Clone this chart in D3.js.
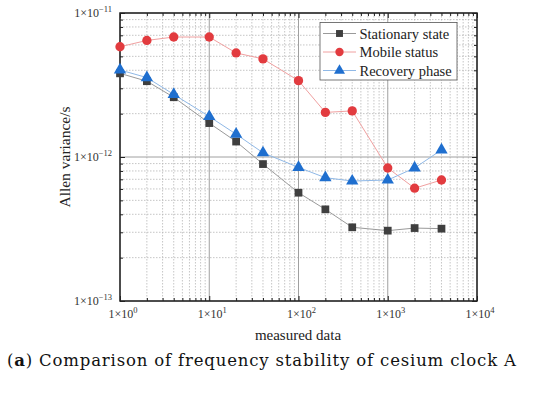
<!DOCTYPE html>
<html><head><meta charset="utf-8">
<script src="https://cdn.jsdelivr.net/npm/d3@7"></script>
<style>body{margin:0;background:#fff}svg{display:block}</style>
</head><body>
<svg id="c" width="550" height="397"></svg>
<script>
const xValues = [1, 2, 4, 10, 20, 40, 100, 200, 400, 1000, 2000, 4000];
const stationary = [3.81e-12, 3.36e-12, 2.60e-12, 1.72e-12, 1.28e-12, 8.93e-13, 5.65e-13, 4.33e-13, 3.25e-13, 3.08e-13, 3.21e-13, 3.18e-13];
const mobile = [5.83e-12, 6.45e-12, 6.81e-12, 6.81e-12, 5.28e-12, 4.80e-12, 3.39e-12, 2.04e-12, 2.09e-12, 8.39e-13, 6.07e-13, 6.92e-13];
const recovery = [4.02e-12, 3.56e-12, 2.72e-12, 1.91e-12, 1.44e-12, 1.07e-12, 8.47e-13, 7.18e-13, 6.81e-13, 6.92e-13, 8.39e-13, 1.12e-12];
const seriesNames = ["Stationary state", "Mobile status", "Recovery phase"];
const xTickExp = [0, 1, 2, 3, 4];
const yTickExp = [-13, -12, -11];
const xTitle = "measured data";
const yTitle = "Allen variance/s";
const captionBold = "a";
const captionText = " Comparison of frequency stability of cesium clock A";

const svg = d3.select("#c");
const L = 120, R = 477, T = 13, B = 301;
const x = d3.scaleLog().domain([1, 1e4]).range([L, R]);
const y = d3.scaleLog().domain([1e-13, 1e-11]).range([B, T]);
const serif = "'Liberation Serif', 'Times New Roman', serif";

const xMinor = [], yMinor = [];
for (let e = 0; e < 4; e++) for (let m = 2; m <= 9; m++) xMinor.push(m * Math.pow(10, e));
for (let e = -13; e < -11; e++) for (let m = 2; m <= 9; m++) yMinor.push(m * Math.pow(10, e));
const xMajor = xTickExp.map(e => Math.pow(10, e));
const yMajor = yTickExp.map(e => Math.pow(10, e));

const g = svg.append("g");
g.selectAll(".xm").data(xMinor).enter().append("line")
  .attr("x1", d => x(d)).attr("x2", d => x(d)).attr("y1", T).attr("y2", B)
  .attr("stroke", "#b8b8b8").attr("stroke-width", 0.8).attr("stroke-dasharray", "1.5,1.5");
g.selectAll(".ym").data(yMinor).enter().append("line")
  .attr("y1", d => y(d)).attr("y2", d => y(d)).attr("x1", L).attr("x2", R)
  .attr("stroke", "#b8b8b8").attr("stroke-width", 0.8).attr("stroke-dasharray", "1.5,1.5");
g.selectAll(".xM").data(xMajor).enter().append("line")
  .attr("x1", d => x(d)).attr("x2", d => x(d)).attr("y1", T).attr("y2", B)
  .attr("stroke", "#a0a0a0").attr("stroke-width", 1);
g.selectAll(".yM").data(yMajor).enter().append("line")
  .attr("y1", d => y(d)).attr("y2", d => y(d)).attr("x1", L).attr("x2", R)
  .attr("stroke", "#a0a0a0").attr("stroke-width", 1);

function styleAxis(sel) {
  sel.select(".domain").remove();
  sel.selectAll("line").attr("stroke", "#222").attr("stroke-width", 1);
  sel.selectAll("text").remove();
}
svg.append("g").attr("transform", `translate(0,${B})`).call(d3.axisBottom(x).tickValues(xMinor).tickSize(-3)).call(styleAxis);
svg.append("g").attr("transform", `translate(0,${B})`).call(d3.axisBottom(x).tickValues(xMajor).tickSize(-5)).call(styleAxis);
svg.append("g").attr("transform", `translate(0,${T})`).call(d3.axisTop(x).tickValues(xMinor).tickSize(-3)).call(styleAxis);
svg.append("g").attr("transform", `translate(0,${T})`).call(d3.axisTop(x).tickValues(xMajor).tickSize(-5)).call(styleAxis);
svg.append("g").attr("transform", `translate(${L},0)`).call(d3.axisLeft(y).tickValues(yMinor).tickSize(-3)).call(styleAxis);
svg.append("g").attr("transform", `translate(${L},0)`).call(d3.axisLeft(y).tickValues(yMajor).tickSize(-5)).call(styleAxis);
svg.append("g").attr("transform", `translate(${R},0)`).call(d3.axisRight(y).tickValues(yMinor).tickSize(-3)).call(styleAxis);
svg.append("g").attr("transform", `translate(${R},0)`).call(d3.axisRight(y).tickValues(yMajor).tickSize(-5)).call(styleAxis);

svg.append("rect").attr("x", L).attr("y", T).attr("width", R - L).attr("height", B - T)
  .attr("fill", "none").attr("stroke", "#222").attr("stroke-width", 1.5);

function expLabel(sel, e) {
  sel.append("tspan").text("1×10");
  sel.append("tspan").attr("dy", -5).attr("font-size", 8.5).text(e < 0 ? "−" + (-e) : String(e));
}
xTickExp.forEach(e => {
  const t = svg.append("text").attr("x", x(Math.pow(10, e)) + 3).attr("y", 318)
    .attr("text-anchor", "middle").attr("font-family", serif).attr("font-size", 12).attr("fill", "#333");
  expLabel(t, e);
});
yTickExp.forEach(e => {
  const t = svg.append("text").attr("x", 112).attr("y", y(Math.pow(10, e)) + 4)
    .attr("text-anchor", "end").attr("font-family", serif).attr("font-size", 12).attr("fill", "#333");
  expLabel(t, e);
});

svg.append("text").attr("x", 298).attr("y", 340).attr("text-anchor", "middle")
  .attr("font-family", serif).attr("font-size", 15).attr("fill", "#222").text(xTitle);
svg.append("text").attr("transform", `translate(70,157) rotate(-90)`).attr("text-anchor", "middle")
  .attr("font-family", serif).attr("font-size", 15.5).attr("fill", "#222").text(yTitle);

const series = [
  {name: seriesNames[0], values: stationary, line: "#9a9a9a", fill: "#3f3f3f", shape: d3.symbolSquare, size: 60},
  {name: seriesNames[1], values: mobile, line: "#f0a0a0", fill: "#e23b3f", shape: d3.symbolCircle, size: 68},
  {name: seriesNames[2], values: recovery, line: "#8fb8e6", fill: "#1f6fcf", shape: d3.symbolTriangle, size: 66}
];
const lineGen = d3.line().x(d => x(d[0])).y(d => y(d[1]));
series.forEach(s => {
  const pts = xValues.map((v, i) => [v, s.values[i]]);
  svg.append("path").datum(pts).attr("d", lineGen).attr("fill", "none")
    .attr("stroke", s.line).attr("stroke-width", 1);
});
series.forEach(s => {
  const pts = xValues.map((v, i) => [v, s.values[i]]);
  svg.selectAll(null).data(pts).enter().append("path")
    .attr("d", d3.symbol().type(s.shape).size(s.size))
    .attr("transform", d => `translate(${x(d[0])},${y(d[1])})`)
    .attr("fill", s.fill);
});

const lg = svg.append("g");
lg.append("rect").attr("x", 320).attr("y", 22.5).attr("width", 137).attr("height", 57.5)
  .attr("fill", "#fff").attr("stroke", "#555").attr("stroke-width", 0.8);
series.forEach((s, i) => {
  const yy = 33.5 + i * 18.5;
  lg.append("line").attr("x1", 323).attr("x2", 356).attr("y1", yy).attr("y2", yy)
    .attr("stroke", s.line).attr("stroke-width", 1);
  lg.append("path").attr("d", d3.symbol().type(s.shape).size(s.size * 0.8))
    .attr("transform", `translate(339.5,${yy})`).attr("fill", s.fill);
  lg.append("text").attr("x", 359.5).attr("y", yy + 5).attr("font-family", serif)
    .attr("font-size", 14.5).attr("fill", "#222").text(s.name);
});

const cap = svg.append("text").attr("x", 7).attr("y", 366)
  .attr("font-family", "'DejaVu Serif', serif").attr("font-size", 16.5).attr("fill", "#111")
  .attr("textLength", 509).attr("lengthAdjust", "spacing");
cap.append("tspan").text("(");
cap.append("tspan").attr("font-weight", "bold").text(captionBold);
cap.append("tspan").text(")" + captionText);
</script>
</body></html>
